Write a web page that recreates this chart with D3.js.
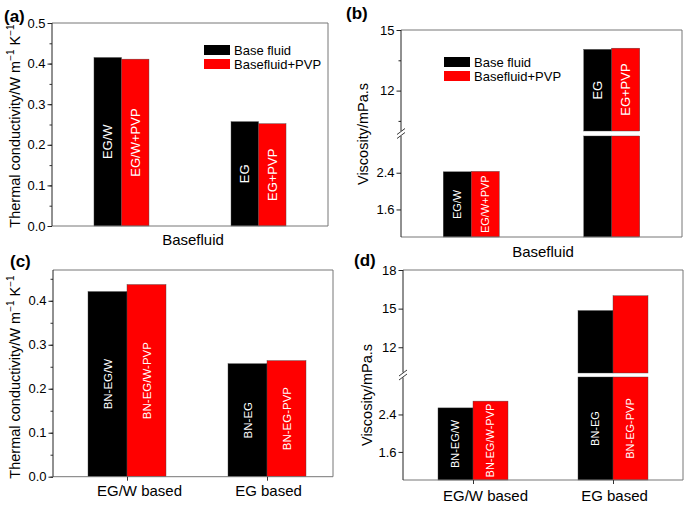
<!DOCTYPE html>
<html><head><meta charset="utf-8">
<script src="https://cdn.jsdelivr.net/npm/d3@7/dist/d3.min.js"></script>
<style>body{margin:0;background:#fff}svg{display:block;font-family:"Liberation Sans",Arial,sans-serif}</style>
</head><body><svg id="c" width="685" height="507"></svg>
<script>
// ---- data ----
const seriesNames = ["Base fluid", "Basefluid+PVP"];
const seriesColors = ["#000000", "#ff0000"];

const aCategories = ["EG/W", "EG"];
const aBase = [0.415, 0.257];
const aPVP = [0.411, 0.252];
const aBarLabels = [["EG/W", "EG/W+PVP"], ["EG", "EG+PVP"]];
const aTicks = [0, 0.1, 0.2, 0.3, 0.4, 0.5];

const bCategories = ["EG/W", "EG"];
const bBase = [2.42, 14.04];
const bPVP = [2.43, 14.1];
const bBarLabels = [["EG/W", "EG/W+PVP"], ["EG", "EG+PVP"]];
const bTicksLow = [1.6, 2.4];
const bTicksHigh = [12, 15];
const bMinorHigh = [10.5, 13.5];

const cCategories = ["EG/W based", "EG based"];
const cBase = [0.421, 0.257];
const cPVP = [0.437, 0.264];
const cBarLabels = [["BN-EG/W", "BN-EG/W-PVP"], ["BN-EG", "BN-EG-PVP"]];
const cTicks = [0, 0.1, 0.2, 0.3, 0.4];

const dCategories = ["EG/W based", "EG based"];
const dBase = [2.54, 14.85];
const dPVP = [2.685, 16.0];
const dBarLabels = [["BN-EG/W", "BN-EG/W-PVP"], ["BN-EG", "BN-EG-PVP"]];
const dTicksLow = [1.6, 2.4];
const dTicksHigh = [12, 15, 18];

const svg = d3.select("#c");
const FONT = 13;
const frameColor = "#777";

function frame(g, x0, x1, y0, y1) {
  g.append("line").attr("x1", x0).attr("x2", x1).attr("y1", y0).attr("y2", y0).attr("stroke", frameColor).attr("stroke-width", 1);
  g.append("line").attr("x1", x1).attr("x2", x1).attr("y1", y0).attr("y2", y1).attr("stroke", frameColor).attr("stroke-width", 1);
  g.append("line").attr("x1", x0).attr("x2", x1).attr("y1", y1).attr("y2", y1).attr("stroke", frameColor).attr("stroke-width", 1);
}

function yTitle(g, x, y, sup) {
  const t = g.append("text").attr("transform", `translate(${x},${y}) rotate(-90)`)
    .attr("text-anchor", "middle").attr("font-size", 14.5).attr("fill", "#000");
  if (sup) {
    t.append("tspan").text("Thermal conductivity/W m");
    t.append("tspan").text("\u22121").attr("font-size", 10).attr("dy", -6);
    t.append("tspan").text(" K").attr("dy", 6);
    t.append("tspan").text("\u22121").attr("font-size", 10).attr("dy", -6);
  } else {
    t.text("Viscosity/mPa.s");
  }
}

function panelLabel(x, y, s) {
  svg.append("text").attr("x", x).attr("y", y).attr("font-size", 17).attr("font-weight", "bold").text(s);
}

function legend(g, x, y) {
  seriesNames.forEach((n, i) => {
    g.append("rect").attr("x", x).attr("y", y + i * 14).attr("width", 26).attr("height", 10).attr("fill", seriesColors[i]);
    g.append("text").attr("x", x + 30).attr("y", y + i * 14 + 9.5).attr("font-size", FONT).text(n);
  });
}

function barLabel(g, cx, cy, txt, size) {
  g.append("text").attr("transform", `translate(${cx + size * 0.36},${cy}) rotate(-90)`)
    .attr("text-anchor", "middle").attr("font-size", size).attr("fill", "#fff").text(txt);
}

function bottomAxis(g, x, o) {
  const bx = g.append("g").attr("transform", `translate(0,${o.y1})`)
    .call(d3.axisBottom(x).tickSize(4).tickPadding(o.xPadTick || 5));
  bx.select(".domain").remove();
  bx.selectAll("line").attr("stroke", "#333");
  bx.selectAll("text").attr("font-size", 15).attr("font-family", null).attr("fill", "#000")
    .attr("dx", (d, i) => i === 0 ? 12 : 1);
}

// simple (unbroken) panel
function simplePanel(o) {
  const g = svg.append("g");
  const x = d3.scalePoint().domain(o.cats).range(o.xRange || [o.x0, o.x1]).padding(o.pad);
  const y = d3.scaleLinear().domain(o.yDomain).range([o.y1, o.y0]);
  const vals = [o.base, o.pvp];
  o.cats.forEach((c, ci) => {
    vals.forEach((arr, si) => {
      const bx = x(c) - o.bw + si * o.bw;
      g.append("rect").attr("x", bx).attr("y", y(arr[ci])).attr("width", o.bw).attr("height", y(0) - y(arr[ci]))
        .attr("fill", seriesColors[si]).attr("stroke", "#444").attr("stroke-width", 0.4);
      barLabel(g, bx + o.bw / 2, (y(arr[ci]) + y(0)) / 2, o.labels[ci][si], o.labSize);
    });
  });
  frame(g, o.x0, o.x1, o.y0, o.y1);
  const minor = d3.range(0, o.yDomain[1] + 1e-9, 0.05).map(v => +v.toFixed(2));
  g.append("g").attr("transform", `translate(${o.x0},0)`)
    .call(d3.axisLeft(y).tickValues(minor).tickSize(2.5).tickFormat(""))
    .call(a => a.select(".domain").remove()).selectAll("line").attr("stroke", "#333");
  const ax = g.append("g").attr("transform", `translate(${o.x0},0)`)
    .call(d3.axisLeft(y).tickValues(o.ticks).tickSize(4.5).tickPadding(2).tickFormat(d3.format(".1f")));
  ax.select(".domain").attr("stroke", "#222").attr("d", `M0,${o.y0}V${o.y1}`);
  ax.selectAll("text").attr("font-size", FONT).attr("font-family", null).attr("fill", "#000");
  ax.selectAll("line").attr("stroke", "#222");
  if (o.xticks) bottomAxis(g, x, o);
  return {g, x, y};
}

// broken-axis panel
function brokenPanel(o) {
  const g = svg.append("g");
  const x = d3.scalePoint().domain(o.cats).range(o.xRange || [o.x0, o.x1]).padding(o.pad);
  const yL = d3.scaleLinear().domain(o.low).range([o.y1, o.yLowTop]);
  const yH = d3.scaleLinear().domain(o.high).range([o.yHighBot, o.y0]);
  const vals = [o.base, o.pvp];
  o.cats.forEach((c, ci) => {
    vals.forEach((arr, si) => {
      const v = arr[ci];
      const bx = x(c) - o.bw + si * o.bw;
      const attrs = r => r.attr("x", bx).attr("width", o.bw).attr("fill", seriesColors[si]).attr("stroke", "#444").attr("stroke-width", 0.4);
      if (v <= o.low[1]) {
        attrs(g.append("rect")).attr("y", yL(v)).attr("height", yL(o.low[0]) - yL(v));
        barLabel(g, bx + o.bw / 2, (yL(v) + o.y1) / 2, o.labels[ci][si], o.labSize);
      } else {
        attrs(g.append("rect")).attr("y", o.yLowTop).attr("height", o.y1 - o.yLowTop);
        attrs(g.append("rect")).attr("y", yH(v)).attr("height", o.yHighBot - yH(v));
        if (o.labelInUpper) barLabel(g, bx + o.bw / 2, (yH(v) + o.yHighBot) / 2, o.labels[ci][si], o.labSizeUpper);
        else barLabel(g, bx + o.bw / 2, (o.yLowTop + o.y1) / 2, o.labels[ci][si], o.labSize);
      }
    });
  });
  frame(g, o.x0, o.x1, o.y0, o.y1);
  const brk = (o.yLowTop + o.yHighBot) / 2;
  g.append("line").attr("x1", o.x0).attr("x2", o.x0).attr("y1", o.y0).attr("y2", brk - 2.5).attr("stroke", "#222");
  g.append("line").attr("x1", o.x0).attr("x2", o.x0).attr("y1", brk + 2.5).attr("y2", o.y1).attr("stroke", "#222");
  [-2, 2].forEach(d => g.append("line").attr("x1", o.x0 - 4).attr("y1", brk + d + 3).attr("x2", o.x0 + 4).attr("y2", brk + d - 3).attr("stroke", "#222").attr("stroke-width", 0.9));
  const styleAx = ax => {
    ax.select(".domain").remove();
    ax.selectAll("text").attr("font-size", FONT).attr("font-family", null).attr("fill", "#000");
    ax.selectAll("line").attr("stroke", "#222");
  };
  styleAx(g.append("g").attr("transform", `translate(${o.x0},0)`)
    .call(d3.axisLeft(yL).tickValues(o.ticksLow).tickSize(4.5).tickPadding(2).tickFormat(d3.format(".1f"))));
  styleAx(g.append("g").attr("transform", `translate(${o.x0},0)`)
    .call(d3.axisLeft(yH).tickValues(o.ticksHigh).tickSize(4.5).tickPadding(2).tickFormat(d3.format("d"))));
  if (o.minorHigh) styleAx(g.append("g").attr("transform", `translate(${o.x0},0)`)
    .call(d3.axisLeft(yH).tickValues(o.minorHigh).tickSize(2.5).tickFormat("")));
  if (o.xticks) bottomAxis(g, x, o);
  return {g, x};
}

// (a)
const A = simplePanel({cats: aCategories, base: aBase, pvp: aPVP, labels: aBarLabels, x0: 52, x1: 328, y0: 23, y1: 226,
  pad: 0.507, bw: 27.5, yDomain: [0, 0.5], ticks: aTicks, labSize: 13});
legend(A.g, 204, 45);
A.g.append("text").attr("x", 193).attr("y", 245).attr("text-anchor", "middle").attr("font-size", 15).text("Basefluid");
yTitle(A.g, 20, 126, true);
panelLabel(4, 22, "(a)");

// (b)
const B = brokenPanel({cats: bCategories, base: bBase, pvp: bPVP, labels: bBarLabels, x0: 401, x1: 682, y0: 30, y1: 237,
  pad: 0.5, bw: 28, low: [1.0, 3.2], high: [10, 15], yLowTop: 136, yHighBot: 131,
  ticksLow: bTicksLow, ticksHigh: bTicksHigh, minorHigh: bMinorHigh, labSize: 11, labSizeUpper: 13, labelInUpper: true});
legend(B.g, 444, 57);
B.g.append("text").attr("x", 543).attr("y", 257).attr("text-anchor", "middle").attr("font-size", 15).text("Basefluid");
yTitle(B.g, 368, 134, false);
panelLabel(346, 19, "(b)");

// (c)
const C = simplePanel({cats: cCategories, base: cBase, pvp: cPVP, labels: cBarLabels, x0: 53, x1: 333, y0: 270, y1: 476.7,
  xRange: [57, 337], pad: 0.5, bw: 39, yDomain: [0, 0.47], ticks: cTicks, labSize: 11.5, xticks: true});
yTitle(C.g, 20, 377, true);
panelLabel(10, 267, "(c)");

// (d)
const D = brokenPanel({cats: dCategories, base: dBase, pvp: dPVP, labels: dBarLabels, x0: 403, x1: 683, y0: 270, y1: 480,
  pad: 0.5, bw: 35, low: [1.0, 3.2], high: [10, 18], yLowTop: 377, yHighBot: 373, xPadTick: 6,
  ticksLow: dTicksLow, ticksHigh: dTicksHigh, labSize: 11, labSizeUpper: 11, labelInUpper: false, xticks: true});
yTitle(D.g, 372, 395, false);
panelLabel(354, 266, "(d)");
</script></body></html>
